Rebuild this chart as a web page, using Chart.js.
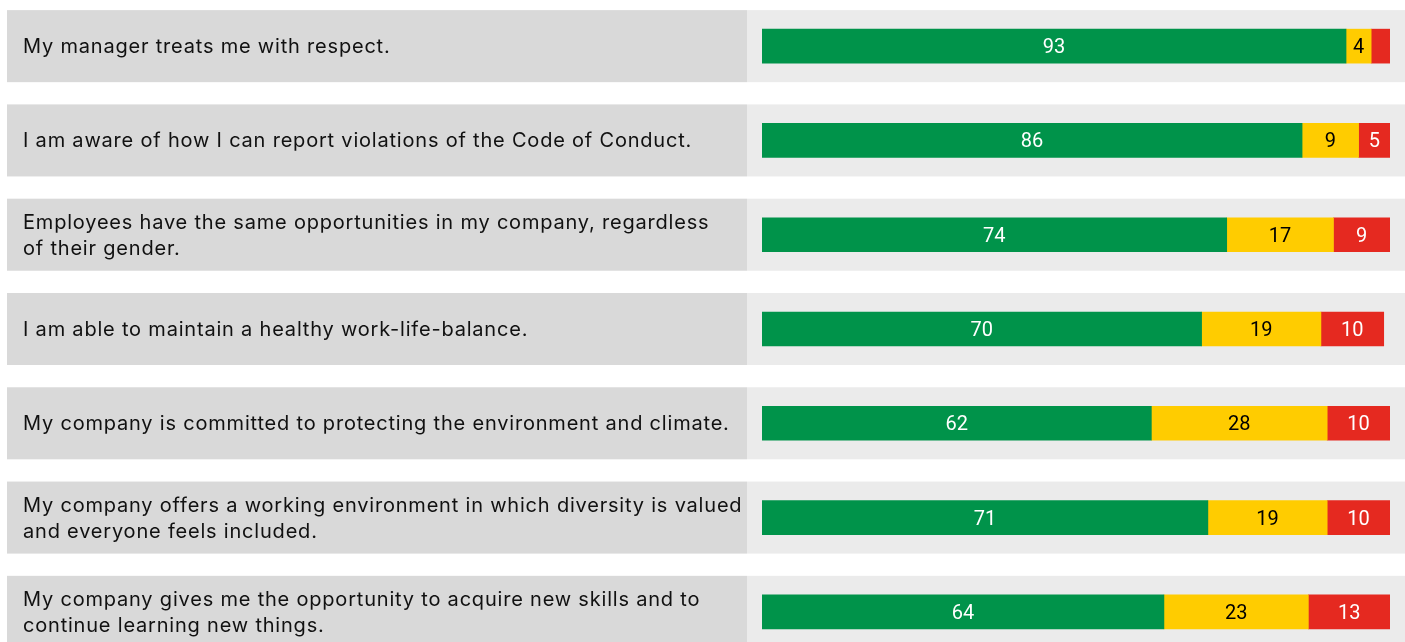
<!DOCTYPE html>
<html>
<head>
<meta charset="utf-8">
<script src="https://cdn.jsdelivr.net/npm/chart.js@4/dist/chart.umd.min.js"></script>
<style>
  html, body { margin: 0; padding: 0; background: #ffffff; overflow: hidden; width: 1405px; height: 642px; }
  #wrap { position: absolute; left: 0; top: -1px; width: 1405px; height: 660px; }
</style>
</head>
<body>
<div id="wrap"><canvas id="c" width="1405" height="660"></canvas></div>
<script>
const categories = [
  ["My manager treats me with respect."],
  ["I am aware of how I can report violations of the Code of Conduct."],
  ["Employees have the same opportunities in my company, regardless", "of their gender."],
  ["I am able to maintain a healthy work-life-balance."],
  ["My company is committed to protecting the environment and climate."],
  ["My company offers a working environment in which diversity is valued", "and everyone feels included."],
  ["My company gives me the opportunity to acquire new skills and to", "continue learning new things."]
];
const agree    = [93, 86, 74, 70, 62, 71, 64];
const neutral  = [4, 9, 17, 19, 28, 19, 23];
const disagree = [3, 5, 9, 10, 10, 10, 13];
const seriesNames = ["Agree", "Neutral", "Disagree"];

const GREEN = "#00934a", YELLOW = "#ffcc00", RED = "#e52920";
const LABEL_BG = "#d9d9d9", BAND_BG = "#ebebeb";
const TEXT_FONT = '20px "Inter", sans-serif';
const VALUE_FONT = '20px "Roboto", sans-serif';

const bandsPlugin = {
  id: "bands",
  beforeDatasetsDraw(chart) {
    const ctx = chart.ctx;
    const y = chart.scales.y;
    const half = y.height / y.ticks.length * 0.382;
    ctx.save();
    y.ticks.forEach((t, i) => {
      const cy = y.getPixelForTick(i);
      ctx.fillStyle = LABEL_BG;
      ctx.fillRect(7, cy - half, 740, half * 2);
      ctx.fillStyle = BAND_BG;
      ctx.fillRect(747, cy - half, chart.width - 747, half * 2);
      const lines = categories[i];
      ctx.fillStyle = "#111111";
      ctx.font = TEXT_FONT;
      ctx.letterSpacing = "0.8px";
      ctx.textAlign = "left";
      ctx.textBaseline = "middle";
      const lh = 26;
      const start = cy + 1 - (lines.length - 1) * lh / 2;
      lines.forEach((ln, k) => ctx.fillText(ln, 23, start + k * lh));
    });
    ctx.restore();
  },
  afterDatasetsDraw(chart) {
    const ctx = chart.ctx;
    ctx.save();
    ctx.font = VALUE_FONT;
    ctx.letterSpacing = "0px";
    ctx.textAlign = "center";
    ctx.textBaseline = "middle";
    chart.data.datasets.forEach((ds, di) => {
      const meta = chart.getDatasetMeta(di);
      meta.data.forEach((bar, i) => {
        const w = Math.abs(bar.x - bar.base);
        if (w < 22) return;
        ctx.fillStyle = ds.labelColor;
        ctx.fillText(String(ds.data[i]), (bar.x + bar.base) / 2, bar.y + 2);
      });
    });
    ctx.restore();
  }
};

new Chart(document.getElementById("c"), {
  type: "bar",
  data: {
    labels: categories.map(c => c.join(" ")),
    datasets: [
      { label: seriesNames[0], data: agree, backgroundColor: GREEN, labelColor: "#ffffff" },
      { label: seriesNames[1], data: neutral, backgroundColor: YELLOW, labelColor: "#000000" },
      { label: seriesNames[2], data: disagree, backgroundColor: RED, labelColor: "#ffffff" }
    ]
  },
  options: {
    indexAxis: "y",
    responsive: false,
    animation: false,
    devicePixelRatio: 1,
    layout: { padding: { left: 762, right: 15, top: 0, bottom: 0 } },
    datasets: { bar: { barThickness: 34, borderWidth: 0, borderSkipped: false } },
    scales: {
      x: { stacked: true, min: 0, max: 100, display: false },
      y: { stacked: true, display: false, offset: true }
    },
    plugins: { legend: { display: false }, tooltip: { enabled: false } }
  },
  plugins: [bandsPlugin]
});
</script>
</body>
</html>
